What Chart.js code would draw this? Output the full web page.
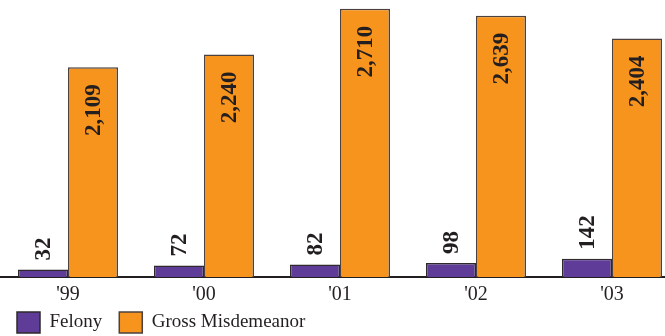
<!DOCTYPE html>
<html>
<head>
<meta charset="utf-8">
<script src="https://cdn.jsdelivr.net/npm/chart.js@4/dist/chart.umd.min.js"></script>
<style>
  html, body { margin: 0; padding: 0; background: #fff; overflow: hidden; }
  #wrap { width: 680px; height: 336px; }
</style>
</head>
<body>
<div id="wrap"><canvas id="c" width="680" height="336"></canvas></div>
<script>
// Case counts by year
const years = ["'99", "'00", "'01", "'02", "'03"];
const felony = [32, 72, 82, 98, 142];
const grossMisdemeanor = [2109, 2240, 2710, 2639, 2404];

// Value axis range (bars grow up from the bottom of the plot)
const yMin = -46;
const yMax = 2800;

const SERIF = "'Liberation Serif', 'Times New Roman', serif";
const INK = '#231f20';

// Rotated value labels: Felony above its bar, Gross Misdemeanor inside near the top
const valueLabels = {
  id: 'valueLabels',
  afterDatasetsDraw(chart) {
    const ctx = chart.ctx;
    chart.data.datasets.forEach((ds, di) => {
      const meta = chart.getDatasetMeta(di);
      meta.data.forEach((bar, i) => {
        const text = ds.data[i].toLocaleString('en-US');
        ctx.save();
        ctx.font = 'bold 23px ' + SERIF;
        ctx.fillStyle = INK;
        ctx.textBaseline = 'middle';
        if (di === 0) {
          ctx.translate(bar.x + 1, bar.y - 9);
          ctx.rotate(-Math.PI / 2);
          ctx.textAlign = 'left';
        } else {
          ctx.translate(bar.x + 1, bar.y + 17);
          ctx.rotate(-Math.PI / 2);
          ctx.textAlign = 'right';
        }
        ctx.fillText(text, 0, 0);
        ctx.restore();
      });
    });
  }
};

// Pull the legend row up so it tucks right under the year labels
const legendNudge = {
  id: 'legendNudge',
  afterLayout(chart) {
    const lg = chart.legend;
    if (lg) { lg.top -= 18; lg.bottom -= 18; }
  }
};

new Chart(document.getElementById('c'), {
  type: 'bar',
  data: {
    labels: years,
    datasets: [
      {
        label: 'Felony',
        data: felony,
        base: yMin,
        backgroundColor: '#5f3c97',
        borderColor: '#2e2a2b',
        borderWidth: 1.5
      },
      {
        label: 'Gross Misdemeanor',
        data: grossMisdemeanor,
        base: yMin,
        backgroundColor: '#f7941e',
        borderColor: '#4a4140',
        borderWidth: 1.5
      }
    ]
  },
  options: {
    responsive: false,
    animation: false,
    layout: { padding: { top: 0, left: 0, right: 0, bottom: -25 } },
    datasets: {
      bar: { categoryPercentage: 100 / 136, barPercentage: 1 }
    },
    scales: {
      x: {
        grid: { display: false, drawTicks: false },
        border: { display: true, color: INK, width: 2 },
        ticks: { color: INK, font: { family: SERIF, size: 20, lineHeight: 1 }, padding: 8 }
      },
      y: {
        display: false,
        min: yMin,
        max: yMax
      }
    },
    plugins: {
      legend: {
        position: 'bottom',
        align: 'start',
        labels: {
          color: INK,
          font: { family: SERIF, size: 19 },
          boxWidth: 23,
          boxHeight: 21,
          padding: 17
        }
      },
      tooltip: { enabled: false }
    }
  },
  plugins: [valueLabels, legendNudge]
});
</script>
</body>
</html>
